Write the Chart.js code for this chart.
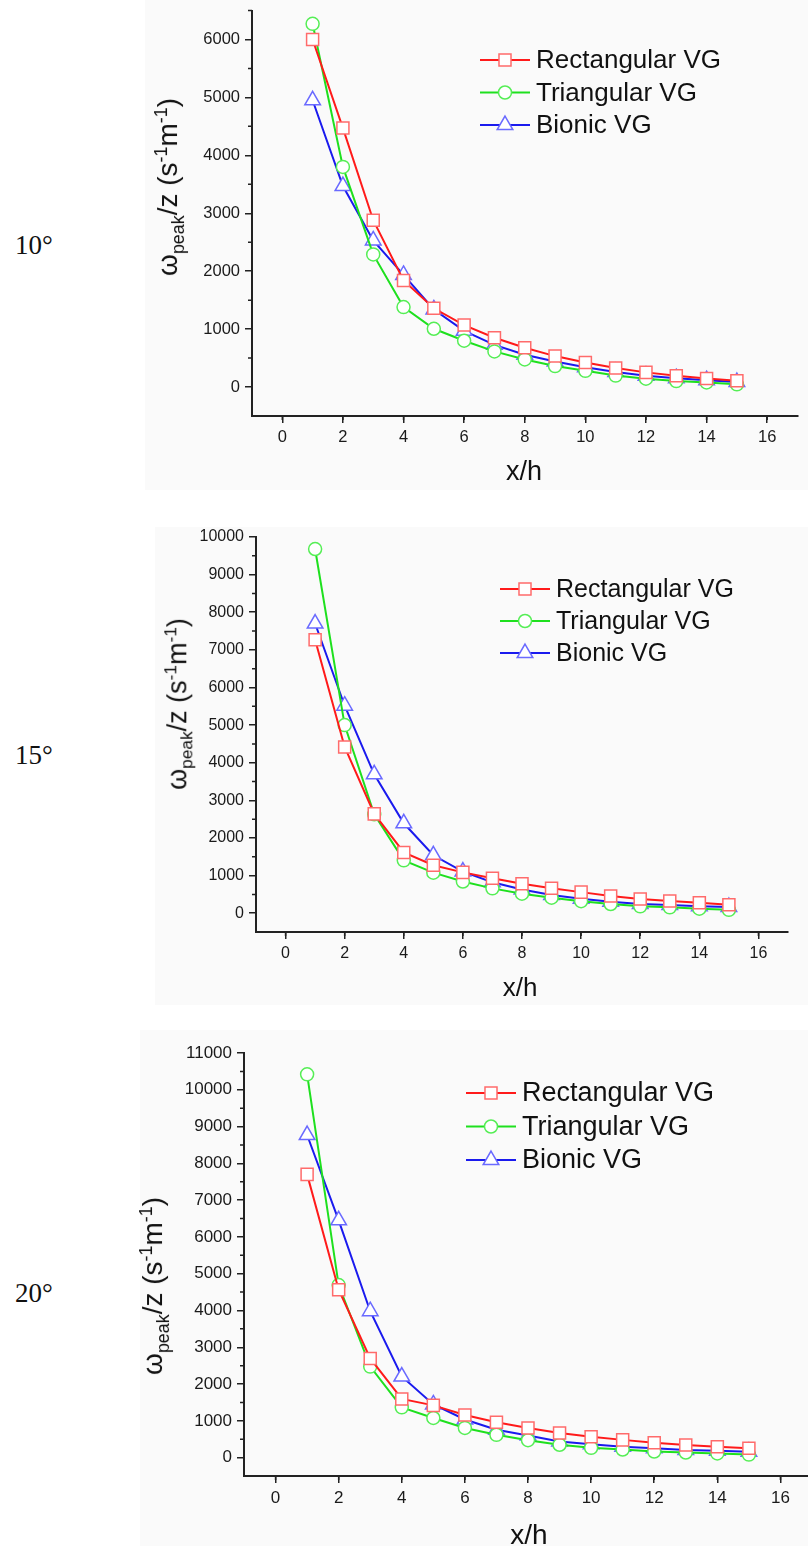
<!DOCTYPE html>
<html>
<head>
<meta charset="utf-8">
<script src="https://cdn.jsdelivr.net/npm/chart.js@4.4.1/dist/chart.umd.min.js"></script>
<style>
body { margin:0; width:808px; height:1546px; overflow:hidden; background:#fff; position:relative; font-family:"Liberation Sans", Arial, sans-serif; }
.bg { position:absolute; background:#fafafa; }
canvas { position:absolute; }
.deg { position:absolute; left:15px; font-family:"Liberation Serif", serif; font-size:27px; color:#111; transform:translateY(-50%); }
.ytitle { position:absolute; color:#111; white-space:nowrap; transform:translate(-50%,-50%) rotate(-90deg); }
.ytitle sub, .ytitle sup { font-size:0.64em; }
.xtitle { position:absolute; color:#111; transform:translate(-50%,-50%); }
</style>
</head>
<body>

<div class="bg" style="left:145px;top:0;width:663px;height:490px"></div>
<div class="bg" style="left:155px;top:527px;width:653px;height:478px"></div>
<div class="bg" style="left:140px;top:1030px;width:668px;height:516px"></div>

<div class="deg" style="top:245px">10°</div>
<div class="deg" style="top:755px">15°</div>
<div class="deg" style="top:1293px">20°</div>

<canvas id="c10" width="668" height="490" style="left:140px;top:0"></canvas>
<canvas id="c15" width="668" height="505" style="left:140px;top:500px"></canvas>
<canvas id="c20" width="690" height="536" style="left:140px;top:1010px"></canvas>

<div class="ytitle" style="left:170px;top:187px;font-size:28px">ω<sub>peak</sub>/z (s<sup>-1</sup>m<sup>-1</sup>)</div>
<div class="ytitle" style="left:179px;top:704px;font-size:27px">ω<sub>peak</sub>/z (s<sup>-1</sup>m<sup>-1</sup>)</div>
<div class="ytitle" style="left:155px;top:1286px;font-size:28px">ω<sub>peak</sub>/z (s<sup>-1</sup>m<sup>-1</sup>)</div>

<div class="xtitle" style="left:524px;top:471px;font-size:27px">x/h</div>
<div class="xtitle" style="left:520px;top:987px;font-size:26px">x/h</div>
<div class="xtitle" style="left:529px;top:1535px;font-size:28px">x/h</div>

<script>
const xVals = [1, 2, 3, 4, 5, 6, 7, 8, 9, 10, 11, 12, 13, 14, 15]
const xTicks = [0, 2, 4, 6, 8, 10, 12, 14, 16]
const seriesNames = ['Rectangular VG', 'Triangular VG', 'Bionic VG']

// 10 deg
const rect10 = [6000, 4470, 2880, 1840, 1360, 1070, 850, 678, 534, 425, 328, 253, 195, 146, 110]
const tri10 = [6270, 3800, 2290, 1380, 1006, 800, 615, 477, 362, 280, 198, 144, 103, 80, 46]
const bio10 = [4950, 3470, 2530, 1935, 1339, 970, 728, 558, 442, 340, 259, 196, 152, 118, 86]
const yTicks10 = [0, 1000, 2000, 3000, 4000, 5000, 6000]

// 15 deg
const rect15 = [7270, 4420, 2640, 1615, 1275, 1085, 930, 785, 660, 560, 457, 377, 323, 280, 226]
const tri15 = [9680, 5000, 2628, 1405, 1077, 842, 660, 518, 412, 320, 244, 182, 155, 120, 89]
const bio15 = [7700, 5515, 3692, 2390, 1540, 1108, 820, 630, 483, 385, 306, 244, 217, 187, 164]
const yTicks15 = [0, 1000, 2000, 3000, 4000, 5000, 6000, 7000, 8000, 9000, 10000]

// 20 deg
const rect20 = [7700, 4566, 2695, 1595, 1420, 1160, 963, 807, 669, 564, 482, 404, 344, 298, 253]
const tri20 = [10420, 4690, 2475, 1366, 1078, 807, 619, 472, 348, 266, 220, 165, 138, 115, 82]
const bio20 = [8770, 6450, 3980, 2205, 1444, 1036, 757, 600, 440, 366, 298, 252, 206, 188, 160]
const yTicks20 = [0, 1000, 2000, 3000, 4000, 5000, 6000, 7000, 8000, 9000, 10000, 11000]

const styles = [
	{ line: '#ff1a1a', marker: '#ff6b6b', shape: 'rect', r: 8.5 },
	{ line: '#1ee01e', marker: '#55ee55', shape: 'circle', r: 6.5 },
	{ line: '#1a1aee', marker: '#6a6aff', shape: 'triangle', r: 9 }
]

// short outward minor ticks halfway between the major ones
const minorTicks = {
	id: 'minorTicks',
	afterDraw(chart) {
		const ctx = chart.ctx
		const x = chart.scales.x, y = chart.scales.y
		ctx.save()
		ctx.strokeStyle = '#222'
		ctx.lineWidth = 1.5
		ctx.beginPath()
		for (let v = x.min + 1; v <= x.max; v += 2) {
			const px = x.getPixelForValue(v)
			ctx.moveTo(px, x.top)
			ctx.lineTo(px, x.top + 4)
		}
		for (let v = 500; v <= y.max; v += 1000) {
			const py = y.getPixelForValue(v)
			ctx.moveTo(y.right, py)
			ctx.lineTo(y.right - 4, py)
		}
		ctx.stroke()
		ctx.restore()
	}
}

// origin-style legend: line - marker - line, then label
const vgLegend = {
	id: 'vgLegend',
	afterDraw(chart, args, opts) {
		const ctx = chart.ctx
		chart.data.datasets.forEach((ds, i) => {
			const y = opts.y + i * opts.gap
			ctx.save()
			ctx.strokeStyle = ds.borderColor
			ctx.lineWidth = 2
			ctx.beginPath()
			ctx.moveTo(opts.x, y)
			ctx.lineTo(opts.x + 50, y)
			ctx.stroke()
			ctx.fillStyle = '#ffffff'
			ctx.strokeStyle = ds.pointBorderColor
			ctx.lineWidth = 1.5
			Chart.helpers.drawPoint(ctx, { pointStyle: ds.pointStyle, radius: ds.pointRadius, rotation: 0, borderWidth: 1.5 }, opts.x + 25, y)
			ctx.fillStyle = '#111'
			ctx.font = opts.size + 'px "Liberation Sans", Arial, sans-serif'
			ctx.textBaseline = 'middle'
			ctx.fillText(ds.label, opts.x + 56, y + 1)
			ctx.restore()
		})
	}
}

function makeChart(id, series, yMin, yMax, yTicks, box, legend, tickSize) {
	const datasets = series.map((vals, i) => ({
		label: seriesNames[i],
		data: xVals.map((x, j) => ({ x: x, y: vals[j] })),
		borderColor: styles[i].line,
		borderWidth: 2,
		pointStyle: styles[i].shape,
		pointRadius: styles[i].r,
		pointBorderColor: styles[i].marker,
		pointBackgroundColor: '#ffffff',
		pointBorderWidth: 1.5,
		tension: 0
	}))
	return new Chart(document.getElementById(id), {
		type: 'line',
		data: { datasets: datasets },
		plugins: [minorTicks, vgLegend],
		options: {
			responsive: false,
			animation: false,
			layout: { padding: { top: box.T, right: box.R, left: 0, bottom: 0 } },
			plugins: {
				legend: { display: false },
				tooltip: { enabled: false },
				vgLegend: legend
			},
			scales: {
				x: {
					type: 'linear',
					min: -1,
					max: 17,
					afterBuildTicks: scale => { scale.ticks = xTicks.map(v => ({ value: v })) },
					afterFit: scale => { scale.height = box.B; scale.paddingLeft = 0; scale.paddingRight = 0 },
					grid: { drawOnChartArea: false, tickLength: 7, tickColor: '#222', lineWidth: 1.5 },
					border: { color: '#222', width: 2 },
					ticks: { autoSkip: false, maxRotation: 0, padding: 5, color: '#1a1a1a', callback: v => String(v), font: { family: '"Liberation Sans", Arial', size: tickSize } }
				},
				y: {
					min: yMin,
					max: yMax,
					afterBuildTicks: scale => { scale.ticks = yTicks.map(v => ({ value: v })) },
					afterFit: scale => { scale.width = box.L; scale.paddingTop = 0; scale.paddingBottom = 0 },
					grid: { drawOnChartArea: false, tickLength: 7, tickColor: '#222', lineWidth: 1.5 },
					border: { color: '#222', width: 2 },
					ticks: { autoSkip: false, padding: 5, color: '#1a1a1a', callback: v => String(v), font: { family: '"Liberation Sans", Arial', size: tickSize } }
				}
			}
		}
	})
}

makeChart('c10', [rect10, tri10, bio10], -500, 6500, yTicks10,
	{ L: 112, R: 5, T: 9, B: 74 }, { x: 340, y: 60, gap: 32.5, size: 26 }, 16.5)
makeChart('c15', [rect15, tri15, bio15], -500, 10000, yTicks15,
	{ L: 116, R: 20, T: 37, B: 73 }, { x: 360, y: 89, gap: 32, size: 25 }, 16)
makeChart('c20', [rect20, tri20, bio20], -500, 11000, yTicks20,
	{ L: 104, R: 18, T: 43, B: 70 }, { x: 326, y: 83, gap: 33.5, size: 27 }, 17)
</script>
</body>
</html>
